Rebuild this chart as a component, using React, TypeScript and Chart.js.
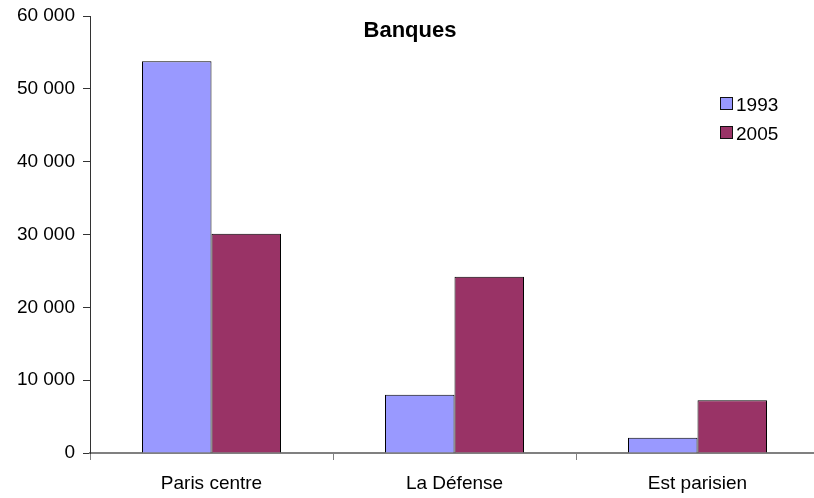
import React, { useEffect, useRef } from "react";
import { Chart, registerables } from "chart.js";

Chart.register(...registerables);

const categories = ["Paris centre", "La Défense", "Est parisien"];
const seriesLabels = ["1993", "2005"];
const values1993 = [53800, 8000, 2100];
const values2005 = [30100, 24200, 7250];
const yTicks = [0, 10000, 20000, 30000, 40000, 50000, 60000];
const titleText = "Banques";

const FONT = "'Liberation Sans', Arial, sans-serif";

function fmt(v: number): string {
  return String(Math.round(v)).replace(/\B(?=(\d{3})+(?!\d))/g, " ");
}

const overlayPlugin = {
  id: "overlay",
  afterDraw(chart: any) {
    const ctx = chart.ctx;
    ctx.save();
    ctx.fillStyle = "#000";
    ctx.font = `bold 22px ${FONT}`;
    ctx.textAlign = "center";
    ctx.textBaseline = "alphabetic";
    ctx.fillText(titleText, 410, 37);
    ctx.font = `19px ${FONT}`;
    ctx.textAlign = "left";
    chart.data.datasets.forEach((ds: any, i: number) => {
      const y = 97 + i * 29;
      ctx.fillStyle = ds.backgroundColor;
      ctx.fillRect(720.5, y + 0.5, 12, 12);
      ctx.strokeStyle = "#111";
      ctx.lineWidth = 1;
      ctx.strokeRect(720.5, y + 0.5, 12, 12);
      ctx.fillStyle = "#000";
      ctx.fillText(ds.label, 736, y + 13.5);
    });
    ctx.restore();
  },
};

export default function App() {
  const ref = useRef<HTMLCanvasElement | null>(null);
  useEffect(() => {
    document.body.style.margin = "0";
    const canvas = ref.current!;
    const chart = new Chart(canvas, {
      type: "bar",
      data: {
        labels: categories,
        datasets: [
          {
            label: seriesLabels[0],
            data: values1993,
            backgroundColor: "#9999FF",
            borderColor: "#000",
            borderWidth: 1,
            categoryPercentage: 0.572,
            barPercentage: 1,
          },
          {
            label: seriesLabels[1],
            data: values2005,
            backgroundColor: "#993366",
            borderColor: "#000",
            borderWidth: 1,
            categoryPercentage: 0.572,
            barPercentage: 1,
          },
        ],
      },
      options: {
        responsive: false,
        animation: false,
        layout: { padding: { top: 16, right: 0, bottom: 0, left: 0 } },
        plugins: {
          legend: { display: false },
          title: { display: false },
          tooltip: { enabled: false },
        },
        scales: {
          x: {
            offset: true,
            grid: {
              offset: true,
              drawOnChartArea: false,
              drawTicks: true,
              tickLength: 7,
              color: "#808080",
              lineWidth: 1,
            },
            border: { display: true, color: "#808080", width: 2 },
            ticks: {
              color: "#000",
              font: { family: FONT, size: 19 },
              padding: 12,
            },
            afterFit(scale: any) {
              scale.height = 45;
              scale.paddingLeft = 0;
              scale.paddingRight = 0;
            },
          },
          y: {
            min: 0,
            max: 60000,
            afterBuildTicks(scale: any) {
              scale.ticks = yTicks.map((v) => ({ value: v }));
            },
            grid: {
              drawOnChartArea: false,
              drawTicks: true,
              tickLength: 7,
              color: "#333",
            },
            border: { display: true, color: "#333", width: 1 },
            ticks: {
              color: "#000",
              font: { family: FONT, size: 19, lineHeight: 1 },
              padding: 8,
              callback: (v: any) => fmt(Number(v)),
            },
            afterFit(scale: any) {
              scale.width = 90;
              scale.paddingTop = 0;
              scale.paddingBottom = 0;
            },
          },
        },
      },
      plugins: [overlayPlugin],
    });
    return () => chart.destroy();
  }, []);
  return (
    <div style={{ width: 814, height: 498, overflow: "hidden", position: "relative" }}>
      <canvas ref={ref} width={819} height={498} style={{ width: 819, height: 498, display: "block" }} />
    </div>
  );
}
